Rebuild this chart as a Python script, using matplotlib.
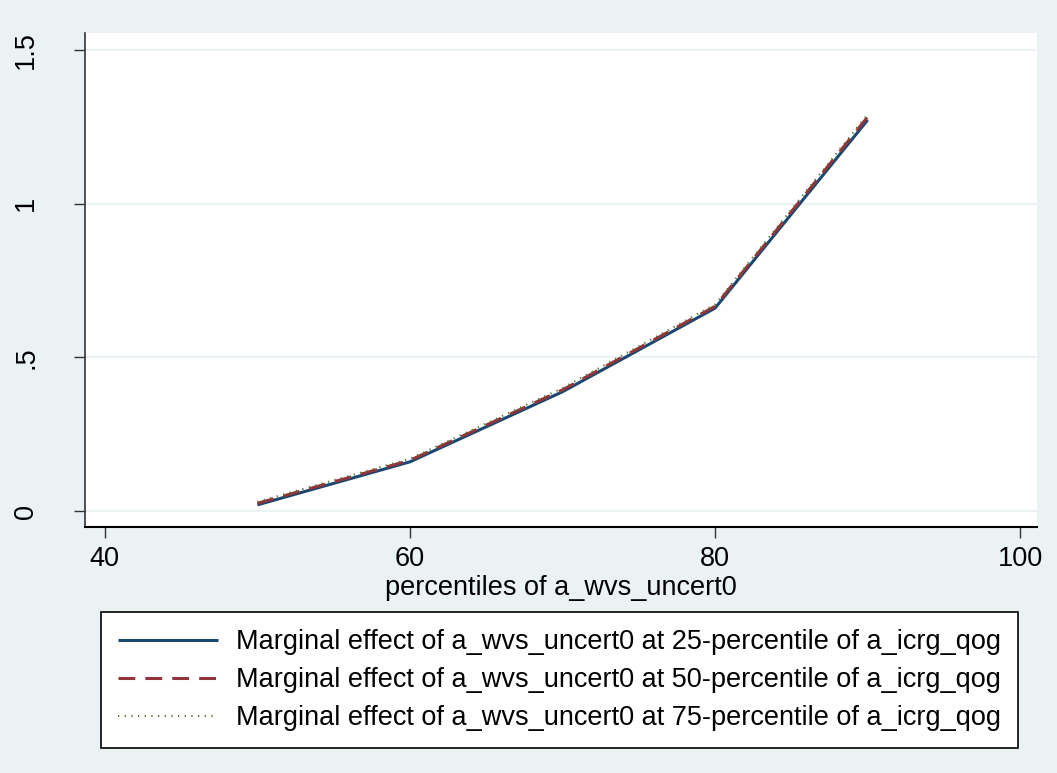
import matplotlib
matplotlib.use("Agg")
import matplotlib.pyplot as plt

# Data
pctl = [50, 60, 70, 80, 90]
me_p25 = [0.020, 0.160, 0.388, 0.660, 1.272]
me_p50 = [0.025, 0.165, 0.394, 0.666, 1.282]
me_p75 = [0.030, 0.170, 0.400, 0.672, 1.290]
labels = [
    "Marginal effect of a_wvs_uncert0 at 25-percentile of a_icrg_qog",
    "Marginal effect of a_wvs_uncert0 at 50-percentile of a_icrg_qog",
    "Marginal effect of a_wvs_uncert0 at 75-percentile of a_icrg_qog",
]
xticks = [40, 60, 80, 100]
yticks = [0, 0.5, 1, 1.5]
ytick_labels = ["0", ".5", "1", "1.5"]

plt.rcParams['font.family'] = ['Liberation Sans', 'DejaVu Sans']

W, H = 1057, 773
bg = '#eaf2f3'
fs = 19.5
fig = plt.figure(figsize=(W / 100, H / 100), dpi=100, facecolor=bg)
ax = fig.add_axes([85 / W, (H - 527) / H, (1037 - 85) / W, (527 - 33) / H])
ax.set_facecolor('white')

l1, = ax.plot(pctl, me_p25, color='#1a476f', lw=2.2, solid_capstyle='butt')
l2, = ax.plot(pctl, me_p50, color='#90353b', lw=2.2, dashes=(5.5, 3.3))
l3, = ax.plot(pctl, me_p75, color='#55752f', lw=1.5, ls=(0, (0.6, 2.6)))

ax.set_xlim(38.7, 101.1)
ax.set_ylim(-0.052, 1.555)
ax.set_xticks(xticks)
ax.set_yticks(yticks)
ax.set_yticklabels(ytick_labels, rotation=90, va='center')
ax.grid(axis='y', color='#eaf2f3', lw=1.5)
ax.set_axisbelow(True)
ax.tick_params(labelsize=fs, length=8, width=1, color='#333333')
ax.tick_params(axis='x', pad=6)
ax.tick_params(axis='y', pad=25)
for s in ['top', 'right']:
    ax.spines[s].set_visible(False)
ax.spines['left'].set_color('#333333')
ax.spines['bottom'].set_color('black')
ax.spines['left'].set_linewidth(1.2)
ax.spines['bottom'].set_linewidth(1.5)
ax.set_xlabel("percentiles of a_wvs_uncert0", fontsize=fs, labelpad=2)

leg = fig.legend([l1, l2, l3], labels, loc='upper left',
                 bbox_to_anchor=(101 / W, (H - 613) / H, (1018 - 101) / W, 0.001),
                 mode='expand', fontsize=fs, frameon=True, fancybox=False,
                 framealpha=1, facecolor='white', edgecolor='black',
                 borderaxespad=0, handlelength=3.7, handletextpad=0.65,
                 labelspacing=0.45, borderpad=0.62)
leg.get_frame().set_linewidth(1.2)

fig.savefig("out.png", dpi=100, facecolor=bg)
